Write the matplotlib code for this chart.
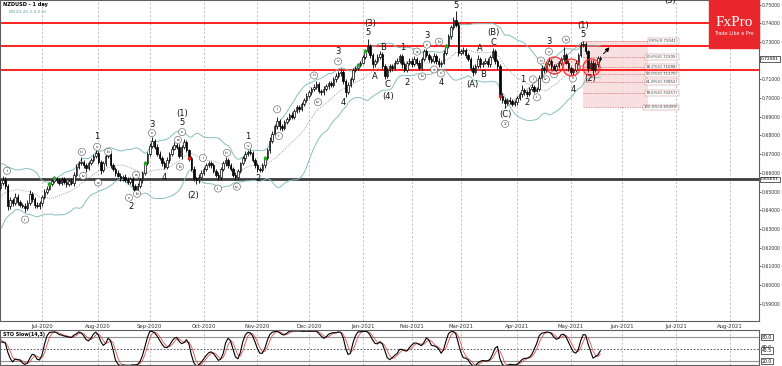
import numpy as np
import pandas as pd
import matplotlib
matplotlib.use("Agg")
import matplotlib.pyplot as plt
from matplotlib.patches import Rectangle

OUTPUT = "out.png"
HOLIDAYS = ["2020-12-25", "2021-01-01"]

# daily closes in pips (1e-4); warm-up bars sit left of the visible window (only feed BB / stochastic)
warm_close = [6300, 6320, 6310, 6350, 6380, 6400, 6390, 6430, 6450, 6470,
              6460, 6500, 6520, 6540, 6560, 6580, 6600, 6570, 6550, 6520]
warm_up = [20, 15, 12, 18, 25, 15, 20, 12, 15, 18, 15, 12, 20, 15, 18, 20, 15, 18, 12, 25]
warm_dn = [15, 20, 25, 12, 10, 15, 12, 18, 15, 10, 12, 15, 10, 15, 12, 10, 15, 12, 15, 10]
first_open = 6290

close_pips = [
    # Jun 2020
    6545, 6560, 6530, 6420, 6455, 6440, 6470, 6445, 6430, 6425, 6410, 6440, 6485, 6460, 6430, 6420, 6440,
    # Jul
    6470, 6500, 6515, 6540, 6555, 6570, 6560, 6545, 6565, 6550, 6540, 6555, 6545, 6590, 6630, 6650, 6660,
    6640, 6625, 6650, 6670, 6690, 6705,
    # Aug
    6660, 6615, 6650, 6690, 6700, 6640, 6620, 6600, 6585, 6570, 6580, 6560, 6550, 6565, 6530, 6505, 6530,
    6560, 6600, 6650, 6700,
    # Sep
    6745, 6770, 6740, 6700, 6680, 6650, 6630, 6670, 6700, 6730, 6750, 6740, 6690, 6740, 6765, 6720, 6680,
    6620, 6570, 6560, 6580, 6600,
    # Oct
    6620, 6640, 6650, 6640, 6610, 6590, 6575, 6620, 6650, 6670, 6640, 6620, 6590, 6575, 6610, 6650, 6680,
    6700, 6710, 6705, 6670, 6640,
    # Nov
    6620, 6615, 6640, 6680, 6720, 6770, 6810, 6850, 6880, 6850, 6840, 6870, 6890, 6910, 6900, 6930, 6950,
    6940, 6970, 6990, 7010,
    # Dec
    7030, 7050, 7060, 7075, 7040, 7030, 7050, 7065, 7080, 7070, 7100, 7120, 7135, 7140, 7090, 7030, 7070,
    7100, 7150, 7160, 7175, 7190,
    # Jan 2021
    7220, 7250, 7280, 7230, 7180, 7200, 7220, 7235, 7170, 7120, 7150, 7170, 7160, 7190, 7200, 7225, 7180,
    7150, 7190, 7200,
    # Feb
    7180, 7210, 7190, 7160, 7210, 7250, 7230, 7210, 7200, 7225, 7200, 7180, 7190, 7240, 7280, 7330, 7380,
    7420, 7390, 7240,
    # Mar
    7250, 7260, 7230, 7210, 7160, 7140, 7170, 7210, 7180, 7190, 7200, 7180, 7220, 7250, 7200, 7170, 7010,
    6990, 6975, 6990, 6985, 6970, 6980,
    # Apr
    7000, 7020, 7045, 7030, 7020, 7050, 7060, 7040, 7050, 7110, 7160, 7150, 7180, 7200, 7170, 7150, 7170,
    7190, 7210, 7230, 7190, 7160,
    # May
    7140, 7150, 7190, 7230, 7285, 7290, 7250, 7160, 7190, 7150, 7180, 7215, 7208.1,
]

# upper / lower shadow lengths in pips
wick_up = [
    20, 25, 15, 10, 18, 12, 20, 15, 12, 10, 15, 12, 25, 10, 12, 15, 10,
    10, 12, 15, 10, 12, 15, 10, 12, 10, 15, 12, 10, 15, 12, 15, 12, 26, 10, 12, 15, 12, 10, 15,
    12, 10, 15, 12, 15, 10, 12, 10, 15, 12, 10, 12, 15, 10, 12, 10, 15, 12, 10, 15, 12,
    15, 20, 10, 12, 15, 10, 12, 15, 10, 12, 15, 10, 12, 10, 15, 12, 10, 12, 15, 10, 12, 15,
    12, 10, 15, 12, 10, 12, 15, 10, 12, 15, 10, 12, 10, 15, 12, 10, 12, 15, 10, 15, 12, 10,
    10, 12, 15, 12, 15, 20, 15, 12, 17, 10, 12, 15, 10, 12, 15, 10, 12, 15, 10, 12, 15,
    12, 10, 15, 15, 12, 10, 15, 12, 10, 12, 15, 12, 10, 20, 12, 10, 15, 12, 10, 12, 15, 10,
    12, 15, 35, 10, 12, 10, 15, 15, 10, 12, 15, 10, 12, 15, 15, 10, 12, 15, 10, 12,
    12, 15, 10, 12, 10, 15, 12, 10, 15, 15, 10, 12, 10, 15, 12, 15, 12, 15, 45, 15,
    12, 15, 10, 12, 10, 15, 10, 20, 12, 10, 15, 12, 10, 20, 12, 10, 12, 15, 10, 12, 15, 10, 12,
    12, 15, 25, 10, 12, 12, 15, 10, 12, 15, 15, 10, 12, 20, 10, 12, 15, 10, 12, 45, 10, 12,
    12, 10, 15, 12, 15, 14, 12, 10, 15, 12, 15, 10, 12,
]
wick_dn = [
    10, 12, 15, 20, 15, 18, 10, 15, 12, 15, 20, 10, 12, 15, 18, 10, 15,
    15, 10, 12, 8, 10, 12, 15, 10, 12, 10, 15, 10, 12, 15, 10, 12, 10, 15, 20, 12, 10, 12, 10,
    15, 20, 10, 12, 10, 15, 12, 15, 10, 12, 15, 10, 12, 10, 20, 15, 12, 10, 15, 12, 10,
    12, 10, 15, 12, 10, 15, 12, 10, 15, 12, 10, 12, 10, 15, 12, 10, 15, 12, 15, 20, 12, 10,
    10, 12, 10, 15, 12, 10, 15, 12, 10, 12, 15, 10, 12, 15, 10, 12, 10, 15, 12, 10, 12, 15,
    15, 12, 10, 12, 10, 15, 12, 10, 15, 20, 15, 12, 10, 15, 12, 10, 12, 15, 10, 12, 10,
    10, 12, 10, 12, 15, 15, 12, 10, 15, 12, 10, 12, 10, 15, 12, 25, 10, 12, 15, 10, 12, 10,
    10, 12, 10, 15, 20, 12, 10, 12, 15, 20, 12, 10, 15, 12, 10, 12, 20, 10, 12, 15,
    15, 10, 12, 10, 12, 10, 12, 15, 10, 12, 15, 15, 12, 10, 12, 10, 15, 10, 12, 15,
    10, 12, 15, 12, 15, 20, 12, 10, 20, 12, 10, 15, 12, 10, 15, 12, 20, 15, 30, 12, 15, 10, 12,
    15, 10, 12, 15, 15, 10, 12, 15, 10, 12, 10, 15, 12, 10, 15, 15, 12, 10, 15, 12, 10, 15,
    25, 15, 10, 12, 10, 12, 15, 20, 12, 20, 10, 15, 12,
]

# horizontal levels
red_levels = [0.7400, 0.7278, 0.7148]
support_level = 0.65651
fib_names = ["0.0%", "23.6%", "38.2%", "50.0%", "61.8%", "78.6%", "100.0%"]
fib_levels = [0.73041, 0.72205, 0.71688, 0.71270, 0.70852, 0.70257, 0.69499]

# trade signals (bar numbers from 8 Jun 2020)
buy_bars = [20, 22, 59, 108, 146, 149, 182, 223]
sell_bars = [77, 204]

# Elliott wave labels: (text, bar, price)
wave_plain = [
    ("1", 39.5, 0.6797), ("2", 53.3, 0.6419), ("3", 61.9, 0.6861), ("4", 66.8, 0.6574),
    ("(1)", 74.2, 0.6919), ("5", 74.2, 0.6871), ("(2)", 78.7, 0.6479), ("1", 101.1, 0.6797),
    ("2", 105.2, 0.6569), ("3", 137.9, 0.7249), ("4", 139.9, 0.6977), ("(3)", 150.9, 0.7397),
    ("5", 150.1, 0.7350), ("A", 153.0, 0.7116), ("B", 156.2, 0.7270), ("C", 157.9, 0.7074),
    ("(4)", 158.3, 0.7010), ("1", 164.4, 0.7270), ("2", 166.0, 0.7084), ("3", 174.2, 0.7334),
    ("4", 179.9, 0.7084), ("5", 186.0, 0.7493), ("(A)", 192.6, 0.7074), ("A", 195.8, 0.7265),
    ("B", 197.1, 0.7127), ("(B)", 201.2, 0.7350), ("C", 201.2, 0.7297), ("(C)", 206.1, 0.6914),
    ("1", 213.4, 0.7100), ("2", 215.0, 0.6978), ("3", 224.0, 0.7302), ("4", 233.8, 0.7047),
    ("5", 237.9, 0.7339), ("(1)", 237.9, 0.7387), ("(2)", 240.8, 0.7105), ("(5)", 273.4, 0.7522),
]
wave_circled = [
    ("i", 2.7, 0.6611), ("ii", 10.1, 0.6350), ("iii", 33.3, 0.6712), ("iv", 33.8, 0.6584),
    ("v", 39.5, 0.6739), ("a", 39.9, 0.6548), ("b", 44.0, 0.6712), ("c", 52.5, 0.6467),
    ("a", 55.4, 0.6589), ("b", 55.8, 0.6488), ("c", 61.9, 0.6813), ("a", 72.5, 0.6776),
    ("b", 73.3, 0.6633), ("c", 74.2, 0.6818), ("i", 82.7, 0.6680), ("ii", 88.9, 0.6516),
    ("iii", 92.5, 0.6707), ("iv", 96.6, 0.6526), ("v", 101.1, 0.6744), ("i", 113.0, 0.6940),
    ("ii", 113.8, 0.6797), ("iii", 128.1, 0.7121), ("iv", 129.7, 0.6978), ("v", 137.9, 0.7196),
    ("a", 170.1, 0.7249), ("b", 172.2, 0.7116), ("c", 174.2, 0.7286), ("a", 177.1, 0.7153),
    ("b", 179.1, 0.7302), ("c", 179.9, 0.7132), ("2", 206.1, 0.6862), ("i", 217.5, 0.7100),
    ("ii", 219.1, 0.7004), ("iii", 220.8, 0.7201), ("iv", 222.8, 0.7100), ("v", 224.0, 0.7249),
    ("a", 226.1, 0.7127), ("b", 231.0, 0.7313), ("c", 233.8, 0.7105),
]
circle_marks = [(226.1, 0.7179), (233.0, 0.7169), (241.2, 0.7169)]

TEAL = "#86c0c0"


def main():
    n_warm = len(warm_close)
    closes = np.array(warm_close + close_pips) / 1e4
    up = np.array(warm_up + wick_up) / 1e4
    dn = np.array(warm_dn + wick_dn) / 1e4
    opens = np.r_[first_open / 1e4, closes[:-1]]
    highs = np.maximum(opens, closes) + up
    lows = np.minimum(opens, closes) - dn
    x = np.arange(len(closes)) - n_warm

    # dates for the axis (holidays have no bar)
    days = pd.bdate_range("2020-05-11", "2021-08-31", freq="C", holidays=HOLIDAYS)
    pos = np.arange(len(days)) - n_warm
    new_month = np.r_[False, days.month[1:] != days.month[:-1]]
    tick_pos = [p for p, m in zip(pos, new_month) if m and p >= 0]
    tick_lab = [d.strftime("%b-%Y") for d, p, m in zip(days, pos, new_month) if m and p >= 0]

    # bollinger bands 20, 2
    s = pd.Series(closes)
    mid = s.rolling(20).mean()
    sd = s.rolling(20).std(ddof=0)

    # slow stochastic 14,3
    hh = pd.Series(highs).rolling(14).max()
    ll = pd.Series(lows).rolling(14).min()
    k = 100 * (s - ll).rolling(3).sum() / (hh - ll).rolling(3).sum()
    d = k.rolling(3).mean()

    fig = plt.figure(figsize=(7.82, 3.66), dpi=100)
    ax = fig.add_axes([0.0, 0.1230, 0.9706, 0.8770])
    ax2 = fig.add_axes([0.0, 0.0027, 0.9706, 0.0956], sharex=ax)

    for a in (ax, ax2):
        for p in tick_pos:
            a.axvline(p, color="#b8b8b8", lw=0.6, ls=(0, (2.5, 2.5)), zorder=0)
        for sp in a.spines.values():
            sp.set_color("#606060")
            sp.set_linewidth(0.8)

    # levels
    for lv in red_levels:
        ax.axhline(lv, color="#ff2020", lw=1.4, zorder=2)
    ax.axhline(support_level, color="#3c3c3c", lw=2.0, zorder=2)

    # bands
    ax.plot(x, mid + 2 * sd, color=TEAL, lw=0.7, zorder=2)
    ax.plot(x, mid - 2 * sd, color=TEAL, lw=0.7, zorder=2)
    ax.plot(x, mid, color="#8a8a8a", lw=0.6, ls=(0, (1, 1.5)), zorder=2)

    # fibonacci box
    i_top = int(np.argmax(highs[-12:])) + len(highs) - 12 - n_warm
    fib_right = i_top + 26.6
    ax.fill_between([i_top, fib_right], fib_levels[-1], fib_levels[0], color="#f6d6d6", alpha=0.75, lw=0, zorder=1)
    ax.hlines(fib_levels, i_top, fib_right, colors="#d86a6a", lw=0.5, linestyles=(0, (2, 1.5)), zorder=1)
    for nm, lv in zip(fib_names, fib_levels):
        ax.text(fib_right + 12.2, lv, f"{nm}({lv:.5f})", fontsize=2.9, ha="right", va="center", color="#404040",
                bbox=dict(boxstyle="square,pad=0.2", fc="white", ec="#c07070", lw=0.3), zorder=5)

    # trend line from the (C) low to the (1) top
    i_low = int(np.argmin(lows[n_warm + 195:n_warm + 215])) + 195
    ax.plot([i_low, i_top], [lows[i_low + n_warm], highs[i_top + n_warm]], color="#a0a0a0", lw=0.6, zorder=2)

    # candles
    bull = closes >= opens
    ax.vlines(x, lows, highs, color="black", lw=0.6, zorder=3)
    ax.bar(x[bull], (closes - opens)[bull], bottom=opens[bull], width=0.62, color="white",
           edgecolor="black", lw=0.5, zorder=4)
    ax.bar(x[~bull], (closes - opens)[~bull], bottom=opens[~bull], width=0.62, color="black",
           edgecolor="black", lw=0.5, zorder=4)

    ax.scatter(buy_bars, closes[np.array(buy_bars) + n_warm], marker="s", s=4, color="#22aa22", zorder=5)
    ax.scatter(sell_bars, closes[np.array(sell_bars) + n_warm], marker="s", s=4, color="#dd2222", zorder=5)

    # wave labels
    for t, b, p in wave_plain:
        ax.text(b, p, t, fontsize=6, ha="center", va="center", color="#111111", zorder=6, clip_on=True)
    for t, b, p in wave_circled:
        ax.text(b, p, t, fontsize=3.2, ha="center", va="center", color="#222222", zorder=6,
                bbox=dict(boxstyle="circle,pad=0.35", fc="white", ec="#555555", lw=0.4))

    cx, cy = zip(*circle_marks)
    ax.scatter(cx, cy, s=150, facecolors=(1, 0, 0, 0.12), edgecolors="#ff2020", lw=0.8, zorder=6)

    last = x[-1]
    ax.annotate("", xy=(last + 4.5, 0.7283), xytext=(last + 0.6, 0.7226),
                arrowprops=dict(arrowstyle="-|>", color="black", lw=0.7, mutation_scale=6), zorder=7)

    # titles
    ax.text(0.004, 0.995, "NZDUSD - 1 day", transform=ax.transAxes, fontsize=3.6, weight="bold",
            va="top", ha="left")
    ax.text(0.012, 0.968, "BB(20,20,2.0,0.0)", transform=ax.transAxes, fontsize=3.2, color="#5aa3a3",
            va="top", ha="left")

    # logo
    ax.add_patch(Rectangle((0.934, 0.85), 0.066, 0.15, transform=ax.transAxes, color="#e8262b",
                           zorder=10, clip_on=False))
    ax.text(0.967, 0.93, "FxPro", transform=ax.transAxes, fontsize=11, color="white",
            family="Liberation Serif", ha="center", va="center", zorder=11)
    ax.text(0.967, 0.895, "Trade Like a Pro", transform=ax.transAxes, fontsize=3.6, color="white",
            ha="center", va="center", zorder=11)

    # price axis (0.72000 sits under the live-price box, as on the terminal)
    ax.set_xlim(-0.15, 309.8)
    ax.set_ylim(0.5807, 0.7525)
    ax.yaxis.tick_right()
    yvals = np.round(np.arange(0.59, 0.7505, 0.01), 2)
    ax.set_yticks(yvals)
    ax.set_yticklabels(["" if v == 0.72 else f"{v:.5f}" for v in yvals])
    ax.tick_params(axis="y", labelsize=3.3, length=1.5, width=0.5, pad=0.8, colors="#303030")
    ax.set_xticks(tick_pos)
    ax.set_xticklabels(tick_lab)
    ax.tick_params(axis="x", labelsize=3.8, length=0, pad=2.2, colors="#303030")
    yt = ax.get_yaxis_transform()
    for v in (closes[-1], support_level):
        ax.text(1.0025, v, f"{v:.5f}", transform=yt, fontsize=3.2, va="center", ha="left", zorder=8,
                bbox=dict(boxstyle="square,pad=0.18", fc="white", ec="#202020", lw=0.5), clip_on=False)

    # stochastic panel
    ax2.axhline(80, color="#909090", lw=0.8)
    ax2.axhline(20, color="#909090", lw=0.8)
    ax2.axhline(50, color="#404040", lw=0.6, ls=(0, (2, 2)))
    ax2.plot(x, d, color="#e05050", lw=0.6)
    ax2.plot(x, k, color="black", lw=0.8)
    ax2.set_ylim(10, 97.5)
    ax2.set_yticks([])
    ax2.tick_params(axis="x", labelbottom=False, length=0)
    ax2.text(0.004, 0.93, "STO Slow(14,3)", transform=ax2.transAxes, fontsize=3.5, weight="bold",
             va="top", ha="left")
    yt2 = ax2.get_yaxis_transform()
    ax2.text(1.004, 55, "50.0", transform=yt2, fontsize=3.3, va="center", ha="left", clip_on=False)
    for v in (80.0, k.iloc[-1], 20.0):
        ax2.text(1.004, v, f"{v:.1f}", transform=yt2, fontsize=3.3, va="center", ha="left", zorder=8,
                 bbox=dict(boxstyle="square,pad=0.2", fc="white", ec="#202020", lw=0.5), clip_on=False)

    fig.savefig(OUTPUT, dpi=100)


if __name__ == "__main__":
    main()
